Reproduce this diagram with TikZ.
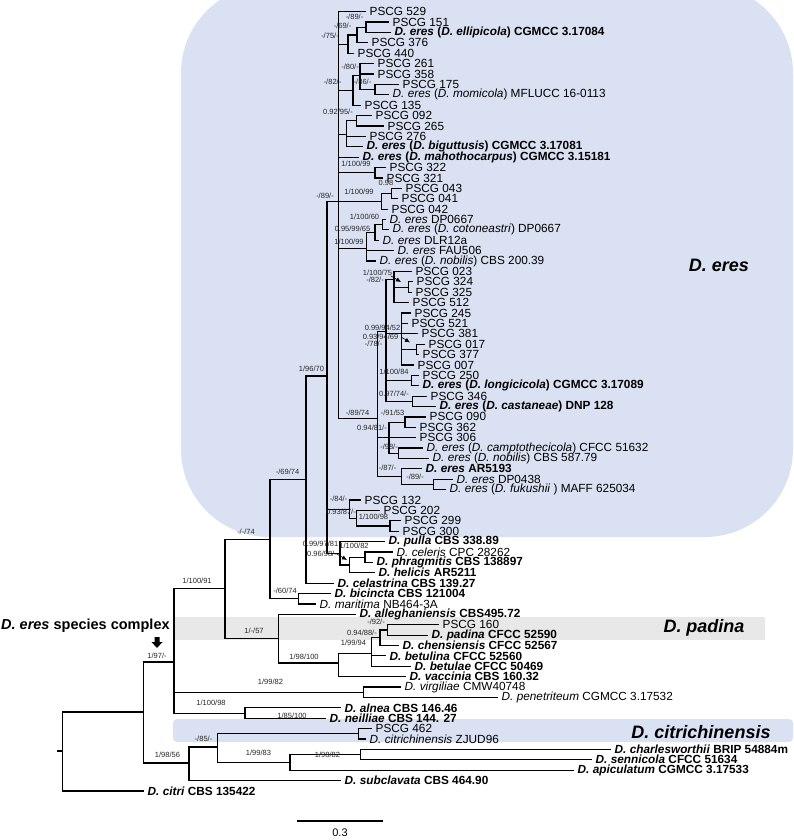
\documentclass[tikz,border=0pt]{standalone}
\usepackage{fontspec}
\setmainfont{Liberation Sans}
\usetikzlibrary{arrows.meta}
\definecolor{eresbg}{RGB}{217,225,242}
\definecolor{padbg}{RGB}{232,232,232}
\newcommand{\myclade}[2]{\foreach \c in {#2}{\draw[br] (#1) |- (\c);}}
\begin{document}
\begin{tikzpicture}[x=1pt,y=-1pt,
  br/.style={line width=1.2pt},
  leaf/.style={anchor=west,inner sep=0pt,font=\fontsize{11.8}{12}\selectfont},
  sup/.style={inner sep=0pt,font=\fontsize{7.5}{8}\selectfont,text=black!85},
  big/.style={inner sep=0pt,font=\fontsize{18}{20}\selectfont\bfseries\itshape},
  ptr/.style={-{Latex[length=5pt,width=4.5pt]},line width=0.6pt}]
\useasboundingbox (0,0) rectangle (794,840);
\fill[white] (0,0) rectangle (794,840);
% highlighted regions
\fill[eresbg,rounded corners=88pt] (181,-15) rectangle (793,537);
\fill[padbg] (174,617) rectangle (765,640);
\fill[eresbg,rounded corners=4pt] (173,719) rectangle (793,742);
\node[big] (eres) at (719,265) {D. eres};
\node[big] (padina) at (704,628) {D. padina};
\node[big] (citrich) at (701,732) {D. citrichinensis};
% leaves
\foreach \i/\x/\t in {
1/366/{PSCG 529},
2/389/{PSCG 151},
3/391/{\textbf{\textit{D. eres} (\textit{D. ellipicola}) CGMCC 3.17084}},
4/368/{PSCG 376},
5/354/{PSCG 440},
6/374/{PSCG 261},
7/374/{PSCG 358},
8/399/{PSCG 175},
9/389/{\textit{D. eres} (\textit{D. momicola}) MFLUCC 16-0113},
10/361/{PSCG 135},
11/372/{PSCG 092},
12/384/{PSCG 265},
13/366/{PSCG 276},
14/363/{\textbf{\textit{D. eres} (\textit{D. biguttusis}) CGMCC 3.17081}},
15/359/{\textbf{\textit{D. eres} (\textit{D. mahothocarpus}) CGMCC 3.15181}},
16/386/{PSCG 322},
17/383/{PSCG 321},
18/402/{PSCG 043},
19/398/{PSCG 041},
20/388/{PSCG 042},
21/386/{\textit{D. eres} DP0667},
22/389/{\textit{D. eres} (\textit{D. cotoneastri}) DP0667},
23/379/{\textit{D. eres} DLR12a},
24/394/{\textit{D. eres} FAU506},
25/376/{\textit{D. eres} (\textit{D. nobilis}) CBS 200.39},
26/412/{PSCG 023},
27/413/{PSCG 324},
28/412/{PSCG 325},
29/409/{PSCG 512},
30/411/{PSCG 245},
31/408/{PSCG 521},
32/418/{PSCG 381},
33/425/{PSCG 017},
34/419/{PSCG 377},
35/414/{PSCG 007},
36/419/{PSCG 250},
37/419/{\textbf{\textit{D. eres} (\textit{D. longicicola}) CGMCC 3.17089}},
38/427/{PSCG 346},
39/436/{\textbf{\textit{D. eres} (\textit{D. castaneae}) DNP 128}},
40/426/{PSCG 090},
41/416/{PSCG 362},
42/416/{PSCG 306},
43/423/{\textit{D. eres} (\textit{D. camptothecicola}) CFCC 51632},
44/429/{\textit{D. eres} (\textit{D. nobilis}) CBS 587.79},
45/422/{\textbf{\textit{D. eres} AR5193}},
46/453/{\textit{D. eres} DP0438},
47/446/{\textit{D. eres} (\textit{D. fukushii} ) MAFF 625034},
48/361/{PSCG 132},
49/380/{PSCG 202},
50/401/{PSCG 299},
51/399/{PSCG 300},
52/385/{\textbf{\textit{D. pulla} CBS 338.89}},
53/393/{\textit{D. celeris} CPC 28262},
54/373/{\textbf{\textit{D. phragmitis} CBS 138897}},
55/375/{\textbf{\textit{D. helicis} AR5211}},
56/334/{\textbf{\textit{D. celastrina} CBS 139.27}},
57/331/{\textbf{\textit{D. bicincta} CBS 121004}},
58/316/{\textit{D. maritima} NB464-3A},
59/356/{\textbf{\textit{D. alleghaniensis} CBS495.72}},
60/439/{PSCG 160},
61/428/{\textbf{\textit{D. padina} CFCC 52590}},
62/399/{\textbf{\textit{D. chensiensis} CFCC 52567}},
63/386/{\textbf{\textit{D. betulina} CFCC 52560}},
64/411/{\textbf{\textit{D. betulae} CFCC 50469}},
65/406/{\textbf{\textit{D. vaccinia} CBS 160.32}},
66/401/{\textit{D. virgiliae} CMW40748},
67/498/{\textit{D. penetriteum} CGMCC 3.17532},
68/341/{\textbf{\textit{D. alnea} CBS 146.46}},
69/326/{\textbf{\textit{D. neilliae} CBS 144. 27}},
70/372/{PSCG 462},
71/366/{\textit{D. citrichinensis} ZJUD96},
72/611/{\textbf{\textit{D. charlesworthii} BRIP 54884m}},
73/592/{\textbf{\textit{D. sennicola} CFCC 51634}},
74/574/{\textbf{\textit{D. apiculatum} CGMCC 3.17533}},
75/341/{\textbf{\textit{D. subclavata} CBS 464.90}},
76/144/{\textbf{\textit{D. citri} CBS 135422}}}{
  \coordinate (L\i) at (\x,{11.7+(\i-1)*10.39});
  \node[leaf] (T\i) at ([xshift=3.5pt]L\i) {\t};
}
% internal nodes
\coordinate (n366) at (366,27.3);
\coordinate (n357) at (357,35.1);
\coordinate (n348) at (348,44.2);
\coordinate (n375) at (375,89.6);
\coordinate (n360) at (360,75.7);
\coordinate (n353) at (353,90.5);
\coordinate (n357b) at (356.7,120.8);
\coordinate (n347) at (346.7,134.7);
\coordinate (n375b) at (375,172.8);
\coordinate (n392) at (391.7,193.5);
\coordinate (n382) at (381.7,201.3);
\coordinate (n383) at (382.7,224.7);
\coordinate (n375c) at (375,232.5);
\coordinate (n367) at (366.7,248.1);
\coordinate (n408) at (408.3,287.1);
\coordinate (n394) at (394,279.3);
\coordinate (n417) at (416.7,349.5);
\coordinate (n402) at (401.7,333.3);
\coordinate (n412) at (411.7,380.6);
\coordinate (n413) at (412.7,401.3);
\coordinate (n386) at (386,331.7);
\coordinate (n405) at (405,422.1);
\coordinate (n398) at (398.3,453.3);
\coordinate (n389) at (389,437.7);
\coordinate (n433) at (433.3,484.5);
\coordinate (n402b) at (401.7,476.7);
\coordinate (n377) at (377.5,418.3);
\coordinate (n338) at (338.8,201.7);
\coordinate (n390) at (390,526);
\coordinate (n357c) at (356.7,518.2);
\coordinate (n349) at (349.3,509.1);
\coordinate (n365) at (365,557.2);
\coordinate (n349b) at (349.3,565);
\coordinate (n340) at (340,553.3);
\coordinate (n327) at (327,376);
\coordinate (n306) at (306,479.6);
\coordinate (n298) at (298.3,598.8);
\coordinate (n270) at (270,539.2);
\coordinate (n387) at (387.3,629.9);
\coordinate (n380) at (380,637.7);
\coordinate (n372) at (371.7,653.3);
\coordinate (n338b) at (338.3,663);
\coordinate (n278) at (278.3,638.7);
\coordinate (n225) at (225,588.5);
\coordinate (n363) at (363.3,692.3);
\coordinate (n245) at (245,713.1);
\coordinate (n174) at (174,662);
\coordinate (n358) at (358.3,733.8);
\coordinate (n361) at (360.7,754.6);
\coordinate (n290) at (290,762.4);
\coordinate (n217) at (217.3,747);
\coordinate (n189) at (189,763);
\coordinate (n143) at (143.3,712);
\coordinate (root) at (62.7,751);
\coordinate (rootstub) at (57.3,751);
% branches
\myclade{n366}{L2,L3}
\myclade{n357}{n366,L4}
\myclade{n348}{n357,L5}
\myclade{n375}{L8,L9}
\myclade{n360}{L6,L7,n375}
\myclade{n353}{n360,L10}
\myclade{n357b}{L11,L12}
\myclade{n347}{n357b,L13,L14}
\myclade{n375b}{L16,L17}
\myclade{n392}{L18,L19}
\myclade{n382}{n392,L20}
\myclade{n383}{L21,L22}
\myclade{n375c}{n383,L23}
\myclade{n367}{n375c,L24,L25}
\myclade{n408}{L27,L28}
\myclade{n394}{L26,n408,L29}
\myclade{n417}{L33,L34}
\myclade{n402}{L30,L31,L32,n417,L35}
\myclade{n412}{L36,L37}
\myclade{n413}{L38,L39}
\myclade{n386}{n394,n402,n412,n413}
\myclade{n405}{L40,L41}
\myclade{n398}{L43,L44}
\myclade{n389}{n405,L42,n398}
\myclade{n433}{L46,L47}
\myclade{n402b}{L45,n433}
\myclade{n377}{n386,n389,n402b}
\myclade{n338}{L1,n348,n353,n347,L15,n375b,n382,n367,n377}
\myclade{n390}{L50,L51}
\myclade{n357c}{L49,n390}
\myclade{n349}{L48,n357c}
\myclade{n365}{L53,L54}
\myclade{n349b}{n365,L55}
\myclade{n340}{L52,n349b}
\myclade{n327}{n338,n349,n340}
\myclade{n306}{n327,L56}
\myclade{n298}{L57,L58}
\myclade{n270}{n306,n298}
\myclade{n387}{L60,L61}
\myclade{n380}{n387,L62}
\myclade{n372}{n380,L63,L64}
\myclade{n338b}{n372,L65}
\myclade{n278}{L59,n338b}
\myclade{n225}{n270,n278}
\myclade{n363}{L66,L67}
\myclade{n245}{L68,L69}
\myclade{n174}{n225,n363,n245}
\myclade{n358}{L70,L71}
\myclade{n361}{L72,L73}
\myclade{n290}{n361,L74}
\myclade{n217}{n358,n290}
\myclade{n189}{n217,L75}
\myclade{n143}{n174,n189}
\myclade{root}{n143,L76}
\draw[br] (rootstub) -- (root);
% support values
\node[sup] (s1) at (354.5,17) {-/89/-};
\node[sup] (s2) at (342.5,25.7) {-/69/-};
\node[sup] (s3) at (330,35.7) {-/75/-};
\node[sup] (s4) at (350,66.7) {-/80/-};
\node[sup] (s5) at (332.5,81.7) {-/82/-};
\node[sup] (s6) at (362.5,81.7) {-/86/-};
\node[sup] (s7) at (338,111.7) {0.92/95/-};
\node[sup] (s8) at (356,164.3) {1/100/99};
\node[sup] (s9) at (386,183.3) {0.98};
\node[sup] (s10) at (359,192.3) {1/100/99};
\node[sup] (s11) at (325,196) {-/89/-};
\node[sup] (s12) at (364.5,216.7) {1/100/60};
\node[sup] (s13) at (352.5,229) {0.95/99/65};
\node[sup] (s14) at (349,241.7) {1/100/99};
\node[sup] (s15) at (377.5,272.7) {1/100/75};
\node[sup] (s16) at (375,280) {-/82/-};
\node[sup] (s17) at (382.5,328.3) {0.99/94/52};
\node[sup] (s18) at (380.5,337.3) {0.93/94/69};
\node[sup] (s19) at (373.5,344.3) {-/78/-};
\node[sup] (s20) at (311.5,369) {1/96/70};
\node[sup] (s21) at (394,371.7) {1/100/84};
\node[sup] (s22) at (394,394) {0.97/74/-};
\node[sup] (s23) at (357.5,413) {-/89/74};
\node[sup] (s24) at (392.5,413.3) {-/91/53};
\node[sup] (s25) at (372,428.3) {0.94/81/-};
\node[sup] (s26) at (389,446.7) {-/98/-};
\node[sup] (s27) at (387.5,468.3) {-/87/-};
\node[sup] (s28) at (415,476.7) {-/89/-};
\node[sup] (s29) at (287.5,472) {-/69/74};
\node[sup] (s30) at (338.5,499.3) {-/84/-};
\node[sup] (s31) at (341,511.7) {0.93/87/-};
\node[sup] (s32) at (373.5,516.7) {1/100/98};
\node[sup] (s33) at (246,532) {-/-/74};
\node[sup] (s34) at (320.5,544) {0.99/97/81};
\node[sup] (s35) at (354,546) {1/100/82};
\node[sup] (s36) at (322,554.3) {0.96/98/-};
\node[sup] (s37) at (197,581) {1/100/91};
\node[sup] (s38) at (285,590.7) {-/60/74};
\node[sup] (s39) at (254,630.7) {1/-/57};
\node[sup] (s40) at (376,622) {-/92/-};
\node[sup] (s41) at (362,632.7) {0.94/88/-};
\node[sup] (s42) at (353.5,643) {1/99/94};
\node[sup] (s43) at (304,656.7) {1/98/100};
\node[sup] (s44) at (270.5,682) {1/99/82};
\node[sup] (s45) at (211,703) {1/100/98};
\node[sup] (s46) at (157,655.7) {1/97/-};
\node[sup] (s47) at (292,716) {1/85/100};
\node[sup] (s48) at (203.5,739) {-/85/-};
\node[sup] (s49) at (327.5,755) {1/98/82};
\node[sup] (s50) at (258.5,753.3) {1/99/83};
\node[sup] (s51) at (167.5,755) {1/98/56};
% small pointer arrows
\coordinate (a1s) at (391,276); \coordinate (a1e) at (401,282);
\coordinate (a2s) at (402,337.5); \coordinate (a2e) at (410,342.5);
\coordinate (a3s) at (337,554); \coordinate (a3e) at (347,560);
\draw[ptr] (a1s) -- (a1e);
\draw[ptr] (a2s) -- (a2e);
\draw[ptr] (a3s) -- (a3e);
% species complex label and arrow
\node[anchor=west,inner sep=0pt,font=\fontsize{14.5}{16}\selectfont\bfseries] (complex) at (1,626) {\textit{D. eres} species complex};
\fill[black] (154.5,637) -- (159.5,637) -- (159.5,642) -- (162.5,642) -- (157,648) -- (151.5,642) -- (154.5,642) -- cycle;
% scale bar
\coordinate (sb1) at (297,821);
\coordinate (sb2) at (383,821);
\draw[br] (sb1) -- (sb2);
\node[inner sep=0pt,font=\fontsize{11}{12}\selectfont] (sbl) at (340,833) {0.3};
\end{tikzpicture}
\end{document}
